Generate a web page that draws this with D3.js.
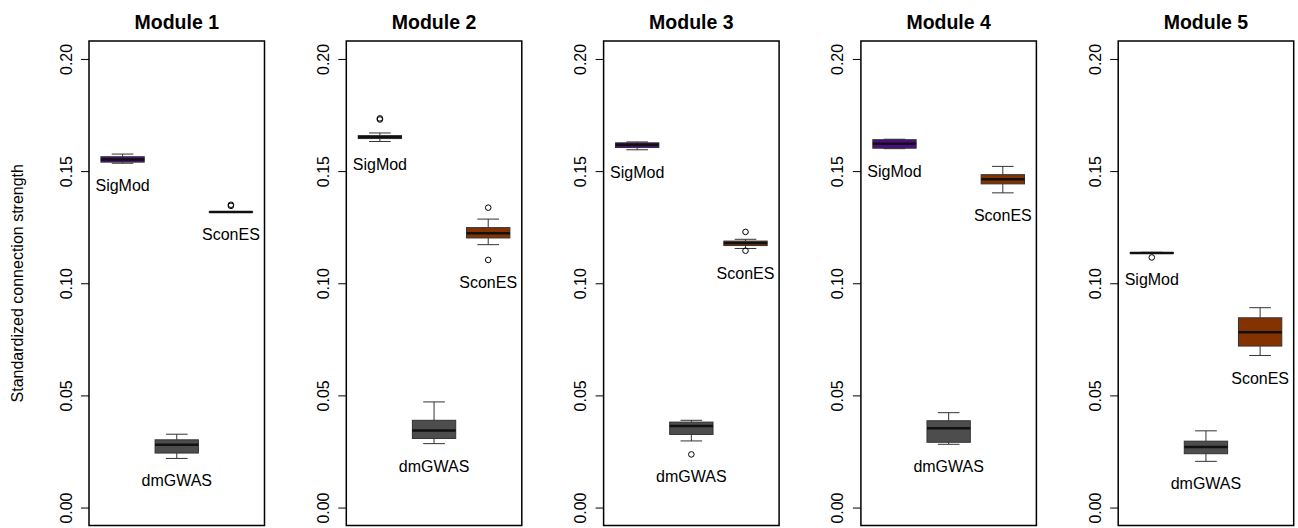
<!DOCTYPE html>
<html>
<head>
<meta charset="utf-8">
<script src="https://cdn.jsdelivr.net/npm/d3@7"></script>
<style>
  html, body { margin: 0; padding: 0; background: #fff; }
  svg { display: block; font-family: "Liberation Sans", Arial, sans-serif; }
</style>
</head>
<body>
<svg id="chart" width="1298" height="528"></svg>
<script>
// Panels and methods
const modules = ["Module 1", "Module 2", "Module 3", "Module 4", "Module 5"];
const methods = ["SigMod", "dmGWAS", "SconES"];
const methodColors = ["#4f0a86", "#4d4d4d", "#833200"];

// Five-number summaries per module: [lower whisker, Q1, median, Q3, upper whisker]
const sigmodStats = [
  [0.1535, 0.1540, 0.1552, 0.1564, 0.1576],
  [0.1632, 0.1645, 0.1652, 0.1658, 0.1670],
  [0.1595, 0.1605, 0.1617, 0.1626, 0.1630],
  [0.1600, 0.1602, 0.1622, 0.1640, 0.1642],
  [0.1133, 0.1134, 0.1135, 0.1137, 0.1138]
];
const dmgwasStats = [
  [0.0219, 0.0243, 0.0280, 0.0302, 0.0327],
  [0.0285, 0.0308, 0.0344, 0.0389, 0.0471],
  [0.0297, 0.0326, 0.0364, 0.0381, 0.0389],
  [0.0282, 0.0291, 0.0354, 0.0387, 0.0423],
  [0.0206, 0.0240, 0.0270, 0.0296, 0.0342]
];
const sconesStats = [
  [0.1317, 0.1318, 0.1318, 0.1319, 0.1319],
  [0.1172, 0.1202, 0.1223, 0.1248, 0.1286],
  [0.1155, 0.1168, 0.1179, 0.1188, 0.1196],
  [0.1403, 0.1443, 0.1464, 0.1484, 0.1521],
  [0.0678, 0.0720, 0.0782, 0.0846, 0.0891]
];

// Outlying points per module
const sigmodOutliers = [[], [0.1730, 0.1735], [], [], [0.1115]];
const dmgwasOutliers = [[], [], [0.0237], [], []];
const sconesOutliers = [[0.1345, 0.1350], [0.1337, 0.1104], [0.1229, 0.1145], [], []];

const yTicks = [0, 0.05, 0.10, 0.15, 0.20];
const yTitle = "Standardized connection strength";

const statsByMethod = [sigmodStats, dmgwasStats, sconesStats];
const outliersByMethod = [sigmodOutliers, dmgwasOutliers, sconesOutliers];

// Layout
const panelLeft0 = 89, panelStep = 257.3, panelWidth = 175.5;
const panelTop = 41, panelBottom = 525.5;

const svg = d3.select("#chart");

const y = d3.scaleLinear().domain([-0.008, 0.208]).range([panelBottom, panelTop]);

// Shared y-axis title
svg.append("text")
  .attr("transform", `translate(22.5,${(panelTop + panelBottom) / 2}) rotate(-90)`)
  .attr("text-anchor", "middle")
  .style("font-size", "16px")
  .attr("fill", "#000")
  .text(yTitle);

modules.forEach((mod, mi) => {
  const left = panelLeft0 + mi * panelStep;
  const x = d3.scaleLinear().domain([0.38, 3.62]).range([left, left + panelWidth]);
  const unit = x(1) - x(0);
  const boxW = 0.8 * unit;
  const capW = boxW / 2;

  const g = svg.append("g");

  // Title
  g.append("text")
    .attr("x", left + panelWidth / 2)
    .attr("y", 28.5)
    .attr("text-anchor", "middle")
    .style("font-size", "19.5px")
    .style("font-weight", "bold")
    .text(mod);

  // Y axis
  const axis = d3.axisLeft(y).tickValues(yTicks).tickFormat(d3.format(".2f")).tickSize(8).tickSizeOuter(0);
  const ag = g.append("g").attr("transform", `translate(${left},0)`).call(axis);
  ag.select(".domain").remove();
  ag.selectAll(".tick line").attr("stroke", "#000").attr("stroke-width", 1);
  ag.selectAll(".tick text")
    .attr("x", null).attr("dy", null)
    .attr("transform", "translate(-17.5,0) rotate(-90)")
    .attr("text-anchor", "middle")
    .attr("fill", "#000")
    .style("font-size", "16px")
    .style("font-family", "'Liberation Sans', Arial, sans-serif");

  // Boxes
  methods.forEach((m, k) => {
    const s = statsByMethod[k][mi];
    const outs = outliersByMethod[k][mi];
    const cx = x(k + 1);
    const col = methodColors[k];
    const line = "#333";

    // whiskers
    g.append("line").attr("x1", cx).attr("x2", cx).attr("y1", y(s[3])).attr("y2", y(s[4])).attr("stroke", line);
    g.append("line").attr("x1", cx).attr("x2", cx).attr("y1", y(s[1])).attr("y2", y(s[0])).attr("stroke", line);
    g.append("line").attr("x1", cx - capW / 2).attr("x2", cx + capW / 2).attr("y1", y(s[4])).attr("y2", y(s[4])).attr("stroke", line);
    g.append("line").attr("x1", cx - capW / 2).attr("x2", cx + capW / 2).attr("y1", y(s[0])).attr("y2", y(s[0])).attr("stroke", line);

    // box
    g.append("rect")
      .attr("x", cx - boxW / 2)
      .attr("y", y(s[3]))
      .attr("width", boxW)
      .attr("height", Math.max(0.5, y(s[1]) - y(s[3])))
      .attr("fill", col)
      .attr("stroke", line)
      .attr("stroke-width", 1);

    // median
    g.append("line")
      .attr("x1", cx - boxW / 2).attr("x2", cx + boxW / 2)
      .attr("y1", y(s[2])).attr("y2", y(s[2]))
      .attr("stroke", "#111").attr("stroke-width", 2.5);

    // outliers
    outs.forEach(v => {
      g.append("circle")
        .attr("cx", cx).attr("cy", y(v)).attr("r", 2.8)
        .attr("fill", "none").attr("stroke", "#000").attr("stroke-width", 1);
    });

    // method label under the lowest observation
    const lowest = d3.min([s[0], ...outs]);
    g.append("text")
      .attr("x", cx)
      .attr("y", y(lowest - 0.01))
      .attr("dy", "0.35em")
      .attr("text-anchor", "middle")
      .style("font-size", "16px")
      .text(m);
  });

  // Frame
  g.append("rect")
    .attr("x", left).attr("y", panelTop)
    .attr("width", panelWidth).attr("height", panelBottom - panelTop)
    .attr("fill", "none").attr("stroke", "#000").attr("stroke-width", 1.5);
});
</script>
</body>
</html>
